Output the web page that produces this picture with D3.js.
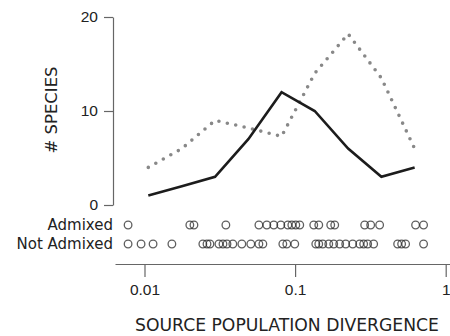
<!DOCTYPE html>
<html>
<head>
<meta charset="utf-8">
<script src="https://cdn.jsdelivr.net/npm/d3@7"></script>
<style>
  body { margin: 0; background: #fff; }
  svg { display: block; font-family: "DejaVu Sans", sans-serif; }
  .axis path, .axis line { stroke: #666; stroke-width: 1.2; }
  .axis text { fill: #222; font-size: 15.5px; }
</style>
</head>
<body>
<svg id="chart" width="450" height="336"></svg>
<script>
// bin centres on the divergence axis
const binCentres = [0.0106, 0.0177, 0.0294, 0.0489, 0.0813, 0.135, 0.225, 0.374, 0.622];
// species counts per bin
const solidCounts = [1, 2, 3, 7, 12, 10, 6, 3, 4];
const dottedCounts = [4, 6, 9, 8.2, 7.3, 14, 18.2, 13.5, 6];

// individual species divergences
const admixed = [0.00778, 0.0200, 0.0213, 0.0347, 0.0575, 0.0649, 0.0722, 0.0804, 0.0895,
  0.0951, 0.1011, 0.1074, 0.133, 0.1436, 0.1724, 0.1833, 0.2897, 0.3176, 0.3642, 0.631, 0.713];
const notAdmixed = [0.00778, 0.00949, 0.0114, 0.0152, 0.0244, 0.0260, 0.0272, 0.0312, 0.0332,
  0.0353, 0.0386, 0.0443, 0.0508, 0.0575, 0.0611, 0.0829, 0.0881, 0.0995, 0.1372, 0.1436,
  0.1527, 0.1673, 0.1805, 0.1978, 0.2168, 0.2413, 0.2684, 0.2853, 0.3033, 0.3324, 0.4795,
  0.5097, 0.5417, 0.713];

const xTicks = [0.01, 0.1, 1];
const yTicks = [0, 10, 20];

const svg = d3.select('#chart');

const x = d3.scaleLog()
    .domain([0.00637, 1.068])
    .range([115, 450]);

const y = d3.scaleLinear()
    .domain([0, 20])
    .range([205, 17]);

// y axis
svg.append('g')
    .attr('class', 'axis')
    .attr('transform', 'translate(113,0)')
    .call(d3.axisLeft(y).tickValues(yTicks).tickSizeInner(9).tickSizeOuter(0).tickPadding(6));

svg.append('text')
    .attr('transform', 'translate(57,110) rotate(-90)')
    .attr('text-anchor', 'middle')
    .style('font-size', '16.5px')
    .attr('fill', '#222')
    .text('# SPECIES');

// x axis
svg.append('g')
    .attr('class', 'axis')
    .attr('transform', 'translate(0,264)')
    .call(d3.axisBottom(x).tickValues(xTicks).tickFormat(d3.format('')).tickSizeInner(13).tickSizeOuter(0).tickPadding(7));

svg.append('text')
    .attr('x', 287)
    .attr('y', 331)
    .attr('text-anchor', 'middle')
    .style('font-size', '17.2px')
    .attr('fill', '#222')
    .text('SOURCE POPULATION DIVERGENCE');

const line = (vals) => d3.line()
    .x((d, i) => x(binCentres[i]))
    .y(d => y(d))(vals);

svg.append('path')
    .attr('d', line(dottedCounts))
    .attr('fill', 'none')
    .attr('stroke', '#888')
    .attr('stroke-width', 3.6)
    .attr('stroke-linecap', 'round')
    .attr('stroke-dasharray', '0 8.6');

svg.append('path')
    .attr('d', line(solidCounts))
    .attr('fill', 'none')
    .attr('stroke', '#1c1c1c')
    .attr('stroke-width', 2.6)
    .attr('stroke-linejoin', 'miter');

// strip rows
const rows = [
    { label: 'Admixed', data: admixed, y: 225 },
    { label: 'Not Admixed', data: notAdmixed, y: 244 }
];

rows.forEach(r => {
    svg.append('text')
        .attr('x', 113)
        .attr('y', r.y)
        .attr('dy', '0.35em')
        .attr('text-anchor', 'end')
        .style('font-size', '15px')
        .attr('fill', '#222')
        .text(r.label);

    svg.append('g').selectAll('circle')
        .data(r.data)
        .enter()
        .append('circle')
        .attr('cx', d => x(d))
        .attr('cy', r.y)
        .attr('r', 3.8)
        .attr('fill', 'none')
        .attr('stroke', '#2a2a2a')
        .attr('stroke-opacity', 0.75)
        .attr('stroke-width', 1.3);
});
</script>
</body>
</html>
